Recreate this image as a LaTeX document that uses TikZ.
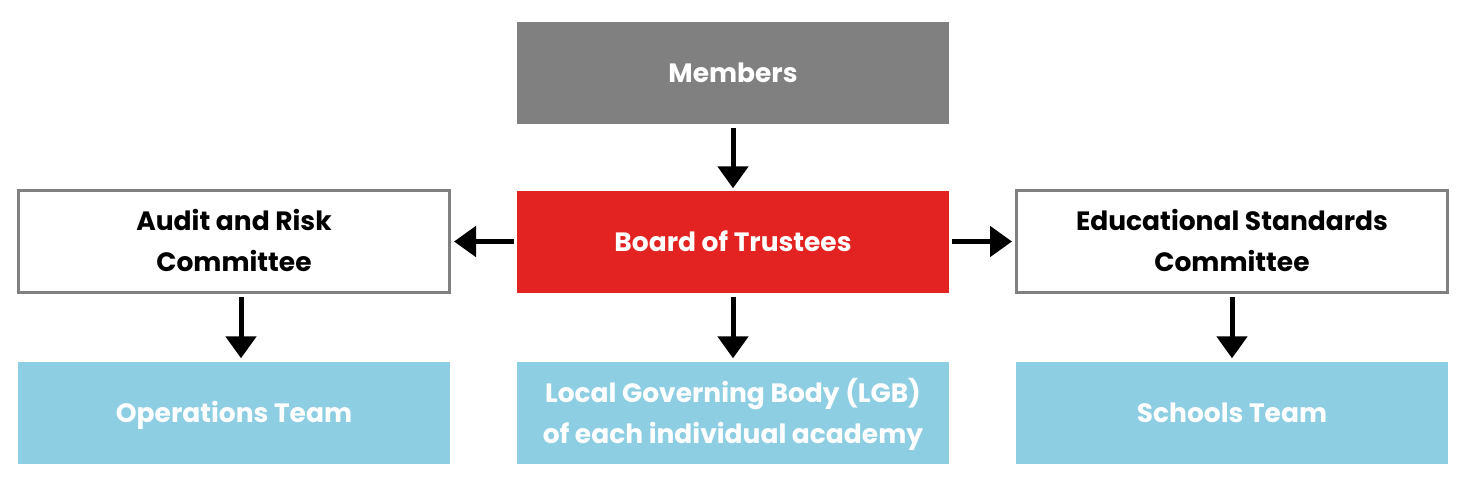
\documentclass[tikz,border=0pt]{standalone}
\usepackage{fontspec}
\setmainfont{Poppins}
\usetikzlibrary{arrows.meta}
\definecolor{mgray}{HTML}{808080}
\definecolor{mred}{HTML}{E32222}
\definecolor{mblue}{HTML}{8DCEE3}
\begin{document}
\begin{tikzpicture}[x=1pt,y=-1pt,
  box/.style={minimum width=432pt,minimum height=102pt,inner sep=0pt},
  gbox/.style={box,fill=mgray},
  rbox/.style={box,fill=mred},
  bbox/.style={box,fill=mblue},
  wbox/.style={box,draw=mgray,line width=3pt,fill=white,minimum width=431pt,minimum height=102pt},
  txt/.style={inner sep=0pt,align=center,font=\fontsize{26.5}{41}\selectfont\bfseries,
     execute at begin node=\strut, execute at end node=\strut},
  wtxt/.style={txt,text=white},
  ktxt/.style={txt,text=black},
  arr/.style={line width=5pt,-{Triangle[width=30pt,length=22pt]}}]
\useasboundingbox (0,0) rectangle (1466,496);
\node[gbox] (mem) at (733,73) {};
\node[rbox] (bot) at (733,241.5) {};
\node[wbox] (aud) at (234,241.5) {};
\node[wbox] (edu) at (1232,241.5) {};
\node[bbox] (ops) at (234,412.5) {};
\node[bbox] (lgb) at (733,412.5) {};
\node[bbox] (sch) at (1232,412.5) {};
\node[wtxt] (memt) at ([yshift=-1.5pt]mem.center) {Members};
\node[wtxt] (bott) at ([yshift=-2pt]bot.center) {Board of Trustees};
\node[ktxt] (audt) at ([yshift=-5pt]aud.center) {Audit and Risk\\Committee};
\node[ktxt] (edut) at ([yshift=-5pt]edu.center) {Educational Standards\\Committee};
\node[wtxt] (opst) at ([yshift=-2pt]ops.center) {Operations Team};
\node[wtxt] (lgbt) at ([yshift=-4.5pt]lgb.center) {Local Governing Body (LGB)\\of each individual academy};
\node[wtxt] (scht) at ([yshift=-2pt]sch.center) {Schools Team};
\draw[arr] ([yshift=-4pt]mem.south) -- ([yshift=2pt]bot.north);
\draw[arr] ([xshift=-3pt]bot.west) -- ([xshift=3pt]aud.east);
\draw[arr] ([xshift=3pt]bot.east) -- ([xshift=-3pt]edu.west);
\draw[arr] ([yshift=-4pt]bot.south) -- ([yshift=3pt]lgb.north);
\draw[arr] ([xshift=7pt,yshift=-3pt]aud.south) -- ([xshift=7pt,yshift=3pt]ops.north);
\draw[arr] ([yshift=-3pt]edu.south) -- ([yshift=3pt]sch.north);
\end{tikzpicture}
\end{document}
